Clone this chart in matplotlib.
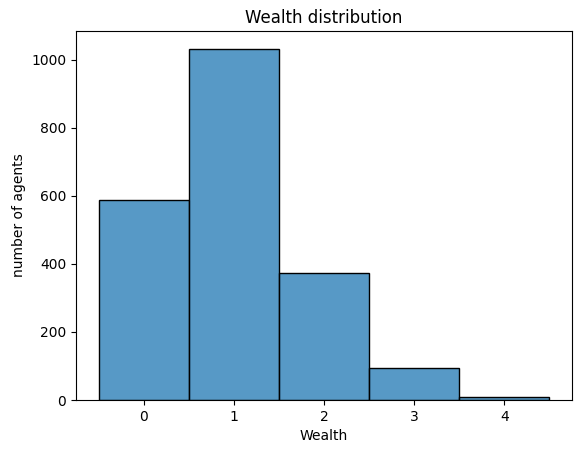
import matplotlib
matplotlib.use("Agg")
import matplotlib.pyplot as plt
import seaborn as sns

# Wealth levels and how many agents hold each one
wealth = [0, 1, 2, 3, 4]
agents = [587, 1033, 373, 93, 8]

fig, ax = plt.subplots(figsize=(5.81, 4.54), dpi=100)
fig.subplots_adjust(left=76 / 581, right=572 / 581, top=1 - 31 / 454, bottom=1 - 400 / 454)

# Discrete histogram, same look as seaborn's histplot
sns.histplot(x=wealth, weights=agents, discrete=True, ax=ax)

ax.set_title('Wealth distribution')
ax.set_xlabel('Wealth')
ax.set_ylabel('number of agents')

fig.savefig('out.png', dpi=100)
